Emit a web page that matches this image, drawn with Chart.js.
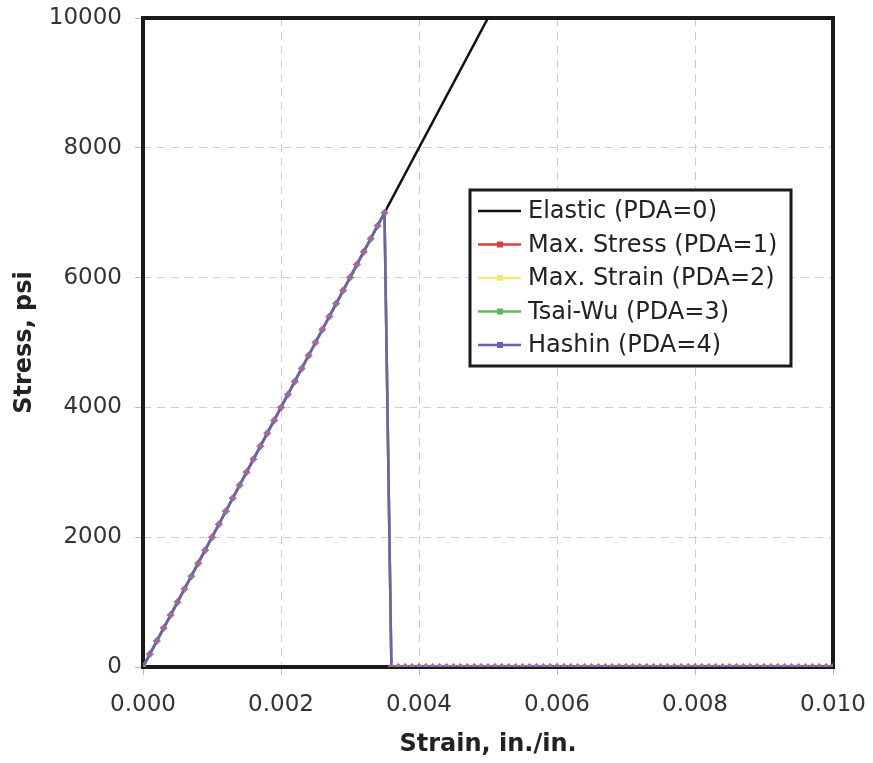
<!DOCTYPE html>
<html>
<head>
<meta charset="utf-8">
<script src="https://cdn.jsdelivr.net/npm/chart.js@4.4.1/dist/chart.umd.min.js"></script>
<style>
  html, body { margin: 0; padding: 0; background: #fff; }
  #wrap { position: relative; width: 873px; height: 763px; }
</style>
</head>
<body>
<div id="wrap"><canvas id="stress" width="873" height="763"></canvas></div>
<script>
// strain, in./in. (shared by all PDA runs)
var strain = [
    0.0000, 0.0001, 0.0002, 0.0003, 0.0004, 0.0005, 0.0006, 0.0007, 0.0008, 0.0009,
    0.0010, 0.0011, 0.0012, 0.0013, 0.0014, 0.0015, 0.0016, 0.0017, 0.0018, 0.0019,
    0.0020, 0.0021, 0.0022, 0.0023, 0.0024, 0.0025, 0.0026, 0.0027, 0.0028, 0.0029,
    0.0030, 0.0031, 0.0032, 0.0033, 0.0034, 0.0035, 0.0036, 0.0037, 0.0038, 0.0039,
    0.0040, 0.0041, 0.0042, 0.0043, 0.0044, 0.0045, 0.0046, 0.0047, 0.0048, 0.0049,
    0.0050, 0.0051, 0.0052, 0.0053, 0.0054, 0.0055, 0.0056, 0.0057, 0.0058, 0.0059,
    0.0060, 0.0061, 0.0062, 0.0063, 0.0064, 0.0065, 0.0066, 0.0067, 0.0068, 0.0069,
    0.0070, 0.0071, 0.0072, 0.0073, 0.0074, 0.0075, 0.0076, 0.0077, 0.0078, 0.0079,
    0.0080, 0.0081, 0.0082, 0.0083, 0.0084, 0.0085, 0.0086, 0.0087, 0.0088, 0.0089,
    0.0090, 0.0091, 0.0092, 0.0093, 0.0094, 0.0095, 0.0096, 0.0097, 0.0098, 0.0099,
    0.0100
];
// stress, psi - same for every failure criterion
var pdaStress = [
    0, 200, 400, 600, 800, 1000, 1200, 1400, 1600, 1800,
    2000, 2200, 2400, 2600, 2800, 3000, 3200, 3400, 3600, 3800,
    4000, 4200, 4400, 4600, 4800, 5000, 5200, 5400, 5600, 5800,
    6000, 6200, 6400, 6600, 6800, 7000, 0, 0, 0, 0,
    0, 0, 0, 0, 0, 0, 0, 0, 0, 0,
    0, 0, 0, 0, 0, 0, 0, 0, 0, 0,
    0, 0, 0, 0, 0, 0, 0, 0, 0, 0,
    0, 0, 0, 0, 0, 0, 0, 0, 0, 0,
    0, 0, 0, 0, 0, 0, 0, 0, 0, 0,
    0, 0, 0, 0, 0, 0, 0, 0, 0, 0,
    0
];
var elasticStrain = [0, 0.005];
var elasticStress = [0, 10000];

var seriesLabels = ['Elastic (PDA=0)', 'Max. Stress (PDA=1)', 'Max. Strain (PDA=2)', 'Tsai-Wu (PDA=3)', 'Hashin (PDA=4)'];
var seriesColors = ['#111111', '#e23b3b', '#f4e77c', '#5cb85c', '#6a60b4'];
var xTicks = [0, 0.002, 0.004, 0.006, 0.008, 0.010];
var yTicks = [0, 2000, 4000, 6000, 8000, 10000];

function pts(xs, ys) {
    return xs.map(function (x, i) { return { x: x, y: ys[i] }; });
}

var FONT = '"DejaVu Sans", Verdana, sans-serif';

var frame = {
    id: 'frame',
    beforeDatasetsDraw: function (chart) {
        var a = chart.chartArea, ctx = chart.ctx;
        ctx.save();
        ctx.strokeStyle = '#1a1a1a';
        ctx.lineWidth = 4;
        ctx.strokeRect(a.left, a.top, a.right - a.left, a.bottom - a.top);
        ctx.restore();
    }
};

var boxLegend = {
    id: 'boxLegend',
    afterDraw: function (chart) {
        var ctx = chart.ctx;
        var x0 = 470, y0 = 190, w = 321, h = 176;
        ctx.save();
        ctx.fillStyle = '#fff';
        ctx.fillRect(x0, y0, w, h);
        ctx.strokeStyle = '#1a1a1a';
        ctx.lineWidth = 3;
        ctx.strokeRect(x0, y0, w, h);
        ctx.font = '24px ' + FONT;
        ctx.textBaseline = 'middle';
        chart.data.datasets.forEach(function (ds, i) {
            var y = y0 + 21 + i * 33.5;
            ctx.strokeStyle = ds.borderColor;
            ctx.lineWidth = 2.5;
            ctx.beginPath();
            ctx.moveTo(x0 + 8, y);
            ctx.lineTo(x0 + 51, y);
            ctx.stroke();
            if (i > 0) {
                ctx.fillStyle = ds.borderColor;
                ctx.fillRect(x0 + 27, y - 3, 6, 6);
            }
            ctx.fillStyle = '#222';
            ctx.fillText(ds.label, x0 + 58, y + 1);
        });
        ctx.restore();
    }
};

var ds = [
    {
        label: seriesLabels[0],
        data: pts(elasticStrain, elasticStress),
        borderColor: seriesColors[0],
        borderWidth: 2.5,
        pointRadius: 0,
        order: 5
    }
];
for (var k = 1; k < 5; k++) {
    ds.push({
        label: seriesLabels[k],
        data: pts(strain, pdaStress),
        borderColor: seriesColors[k],
        backgroundColor: k === 4 ? '#9a6ab0' : seriesColors[k],
        borderWidth: 2.5,
        pointStyle: 'rectRot',
        pointRadius: k === 1 ? 4 : 3.2,
        pointBorderWidth: 0,
        order: 5 - k
    });
}

var gridOpts = {
    color: '#cdcdcd',
    lineWidth: 1,
    tickLength: 8,
    tickColor: '#bbb',
    tickBorderDash: []
};

new Chart(document.getElementById('stress'), {
    type: 'line',
    data: { datasets: ds },
    options: {
        responsive: false,
        animation: false,
        devicePixelRatio: 1,
        layout: { padding: { top: 18, right: 40, bottom: 0, left: 0 } },
        plugins: {
            legend: { display: false },
            tooltip: { enabled: false }
        },
        elements: { line: { tension: 0 } },
        scales: {
            x: {
                type: 'linear',
                min: 0,
                max: 0.010,
                afterBuildTicks: function (s) { s.ticks = xTicks.map(function (v) { return { value: v }; }); },
                afterFit: function (s) { s.height = 96; s.paddingLeft = 0; s.paddingRight = 0; },
                ticks: {
                    autoSkip: false,
                    color: '#333',
                    font: { family: FONT, size: 23 },
                    padding: 16,
                    maxRotation: 0,
                    callback: function (v) { return Number(v).toFixed(3); }
                },
                grid: gridOpts,
                border: { display: false, dash: [8, 6] },
                title: {
                    display: true,
                    text: 'Strain, in./in.',
                    color: '#222',
                    font: { family: FONT, size: 24, weight: 'bold' },
                    padding: { top: 6, bottom: 4 }
                }
            },
            y: {
                min: 0,
                max: 10000,
                afterBuildTicks: function (s) { s.ticks = yTicks.map(function (v) { return { value: v }; }); },
                ticks: {
                    autoSkip: false,
                    color: '#333',
                    font: { family: FONT, size: 23 },
                    padding: 13,
                    callback: function (v) { return String(v); }
                },
                afterFit: function (s) { s.width = 143; s.paddingTop = 0; s.paddingBottom = 0; },
                grid: gridOpts,
                border: { display: false, dash: [8, 6] },
                title: {
                    display: true,
                    text: 'Stress, psi',
                    color: '#222',
                    font: { family: FONT, size: 24, weight: 'bold' },
                    padding: { top: 10, bottom: 4 }
                }
            }
        }
    },
    plugins: [frame, boxLegend]
});
</script>
</body>
</html>
